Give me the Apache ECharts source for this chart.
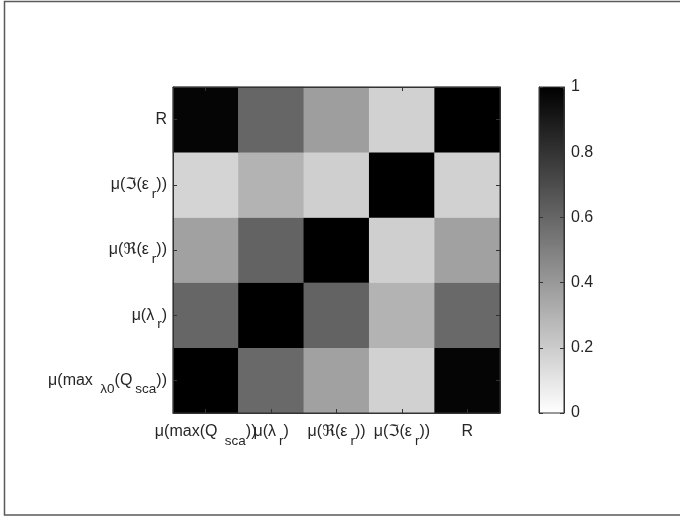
<!DOCTYPE html>
<html>
<head>
<meta charset="utf-8">
<script src="https://cdn.jsdelivr.net/npm/echarts@6/dist/echarts.min.js"></script>
<style>html,body{margin:0;padding:0;background:#fff}#c{width:680px;height:519px}</style>
</head>
<body>
<div id="c"></div>
<script>
// Column categories (left to right)
const xCategories = [
  '{a|μ(max(Q }{s|sca}{a|))}',
  '{a|μ(λ}{s|r}{a|)}',
  '{a|μ(ℜ(ε}{s|r}{a|))}',
  '{a|μ(ℑ(ε}{s|r}{a|))}',
  '{a|R}'
];
// Row categories (bottom to top)
const yCategories = [
  '{a|μ(max }{s|λ0}{a|(Q}{s|sca}{a|))}',
  '{a|μ(λ}{s|r}{a|)}',
  '{a|μ(ℜ(ε}{s|r}{a|))}',
  '{a|μ(ℑ(ε}{s|r}{a|))}',
  '{a|R}'
];
// Cell values per row (bottom to top), columns left to right
const rowMaxQ   = [1.00, 0.59, 0.37, 0.18, 0.98];
const rowLambda = [0.60, 1.00, 0.61, 0.30, 0.59];
const rowRe     = [0.37, 0.61, 1.00, 0.19, 0.37];
const rowIm     = [0.17, 0.30, 0.19, 1.00, 0.18];
const rowR      = [0.98, 0.60, 0.38, 0.18, 1.00];
// Colorbar ticks
const cbarMin = 0, cbarMax = 1, cbarStep = 0.2;

const rows = [rowMaxQ, rowLambda, rowRe, rowIm, rowR];
const data = [];
rows.forEach((row, yi) => row.forEach((v, xi) => data.push([xi, yi, v])));

const txt = '#262626';
const font = 'Liberation Sans, Arial, DejaVu Sans, sans-serif';
const rich = {
  a: {fontSize: 16, color: txt, fontFamily: font, lineHeight: 32, verticalAlign: 'middle'},
  s: {fontSize: 13.5, color: txt, fontFamily: font, lineHeight: 12, verticalAlign: 'bottom', padding: [0, 0, 0, 3]}
};
const axLine = {show: true, lineStyle: {color: '#333', width: 1}};
const tick = {show: true, inside: true, length: 4, alignWithLabel: true, lineStyle: {color: '#333'}};

const chart = echarts.init(document.getElementById('c'), null, {renderer: 'canvas'});
chart.setOption({
  animation: false,
  backgroundColor: '#fff',
  grid: [
    {left: 173, top: 87, width: 327, height: 326, show: true, borderColor: '#333', borderWidth: 1, backgroundColor: 'transparent', z: 5},
    {left: 539, top: 87, width: 25, height: 326, show: true, borderColor: '#333', borderWidth: 1, backgroundColor: 'transparent', z: 5}
  ],
  xAxis: [
    {type: 'category', gridIndex: 0, data: xCategories, position: 'bottom', axisLine: axLine, axisTick: tick,
     axisLabel: {margin: 3, formatter: v => v, rich: rich, interval: 0, hideOverlap: false}, splitLine: {show: false}, z: 6},
    {type: 'category', gridIndex: 0, data: xCategories, position: 'top', axisLine: axLine, axisTick: tick,
     axisLabel: {show: false}, splitLine: {show: false}, z: 6},
    {type: 'value', gridIndex: 1, show: false, min: 0, max: 1}
  ],
  yAxis: [
    {type: 'category', gridIndex: 0, data: yCategories, position: 'left', axisLine: axLine, axisTick: tick,
     axisLabel: {margin: 6, formatter: v => v, rich: rich, interval: 0, hideOverlap: false}, splitLine: {show: false}, z: 6},
    {type: 'category', gridIndex: 0, data: yCategories, position: 'right', axisLine: axLine, axisTick: tick,
     axisLabel: {show: false}, splitLine: {show: false}, z: 6},
    {type: 'value', gridIndex: 1, position: 'left', min: cbarMin, max: cbarMax, interval: cbarStep,
     axisLine: axLine, axisTick: {show: true, inside: true, length: 4, lineStyle: {color: '#333'}},
     axisLabel: {show: false}, splitLine: {show: false}, z: 6},
    {type: 'value', gridIndex: 1, position: 'right', min: cbarMin, max: cbarMax, interval: cbarStep,
     axisLine: axLine, axisTick: {show: true, inside: true, length: 4, lineStyle: {color: '#333'}},
     axisLabel: {margin: 7, color: txt, fontSize: 16, fontFamily: font, formatter: v => String(+v.toFixed(1))},
     splitLine: {show: false}, z: 6}
  ],
  visualMap: {
    type: 'continuous', min: cbarMin, max: cbarMax, calculable: false, hoverLink: false,
    orient: 'vertical', left: 539, top: 87, itemWidth: 25, itemHeight: 326, padding: 0,
    showLabel: false, text: null, seriesIndex: 0, z: 1,
    inRange: {color: ['#ffffff', '#000000']}
  },
  series: [{
    type: 'heatmap', xAxisIndex: 0, yAxisIndex: 0, data: data,
    itemStyle: {borderWidth: 0}, emphasis: {disabled: true}
  }],
  graphic: [
    {type: 'polyline', shape: {points: [[680, 1.5], [4.5, 1.5], [4.5, 515], [680, 515]]},
     style: {stroke: '#5a5a5a', lineWidth: 1.5, fill: null}, silent: true}
  ]
});
</script>
</body>
</html>
